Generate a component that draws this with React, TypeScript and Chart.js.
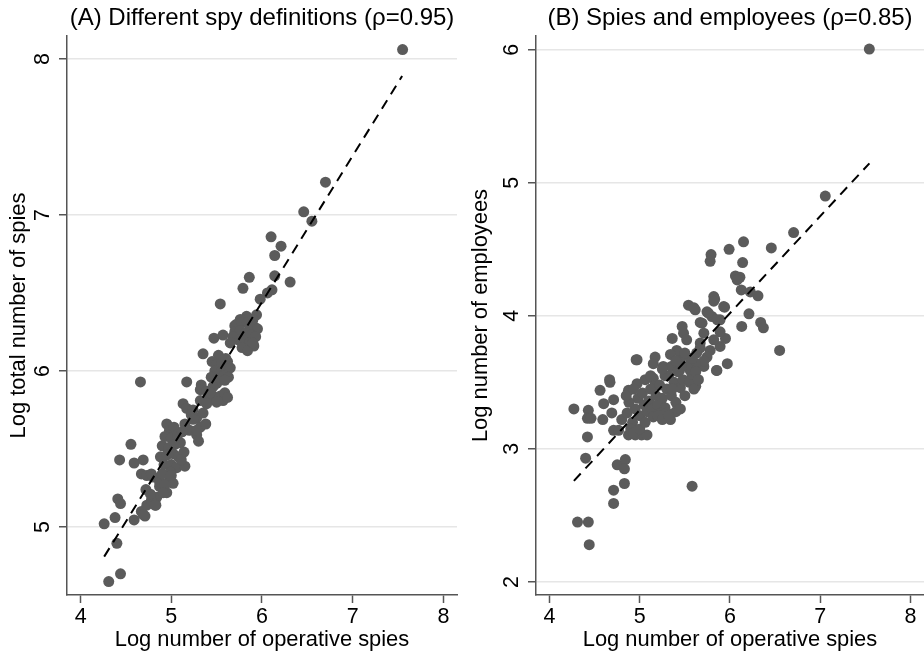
import React, { useEffect, useRef } from "react";
import { Chart, registerables } from "chart.js";

Chart.register(...registerables);

const FONT = "'Liberation Sans', Arial, Helvetica, sans-serif";

// ---- Panel A: Different spy definitions ----
const titleA = "(A) Different spy definitions (\u03c1=0.95)";
const xTitle = "Log number of operative spies";
const yTitleA = "Log total number of spies";
const xTicks = [4, 5, 6, 7, 8];
const yTicksA = [5, 6, 7, 8];

const opsA = [
  7.55, 6.70, 6.46, 6.55, 6.10, 6.21, 6.14, 5.86, 6.14, 5.79, 6.31, 6.11, 6.06, 5.98, 5.54, 5.94,
  5.90, 5.83, 5.76, 5.70, 5.87, 5.92, 5.72, 5.78, 5.84, 5.89, 5.95, 5.70, 5.76, 5.82, 5.88, 5.93,
  5.74, 5.80, 5.86, 5.91, 5.78, 5.84, 5.68, 5.65, 5.47, 5.57, 5.90, 5.35, 5.52, 5.45, 5.50, 5.56,
  5.62, 5.48, 5.54, 5.60, 5.65, 5.44, 5.52, 5.58, 5.63, 5.60, 5.17, 5.33, 5.50, 5.59, 5.32, 5.39,
  5.46, 5.46, 5.54, 5.57, 5.59, 5.62, 5.40, 5.50, 4.66, 5.13, 5.17, 5.24, 5.32, 5.22, 5.28, 5.35,
  5.15, 5.24, 5.32, 5.28, 5.38, 5.20, 5.30, 4.95, 4.98, 5.03, 4.93, 5.00, 5.07, 5.12, 4.90, 4.97,
  5.04, 5.10, 4.88, 4.95, 5.02, 5.08, 5.14, 4.92, 5.00, 5.06, 5.15, 5.11, 4.99, 4.84, 4.95, 4.87,
  4.80, 4.87, 4.98, 5.02, 4.90, 4.93, 5.00, 4.555, 4.43, 4.59, 4.69, 4.67, 4.73, 4.41, 4.44, 4.72,
  4.26, 4.38, 4.59, 4.71, 4.67, 4.73, 4.83, 4.40, 4.44, 4.31, 4.78, 4.77, 4.82, 4.91, 5.28, 5.39,
  5.43, 4.78, 4.69,
];
const totalA = [
  8.06, 7.21, 7.02, 6.96, 6.86, 6.80, 6.74, 6.60, 6.61, 6.53, 6.57, 6.52, 6.50, 6.46, 6.43, 6.36,
  6.33, 6.35, 6.33, 6.29, 6.28, 6.28, 6.30, 6.31, 6.31, 6.30, 6.27, 6.25, 6.26, 6.24, 6.23, 6.22,
  6.20, 6.19, 6.18, 6.16, 6.15, 6.13, 6.22, 6.18, 6.21, 6.23, 6.18, 6.11, 6.10, 6.06, 6.04, 6.05,
  6.06, 6.00, 5.99, 6.00, 6.02, 5.96, 5.95, 5.97, 5.96, 6.08, 5.93, 5.91, 5.92, 5.94, 5.88, 5.87,
  5.90, 5.84, 5.84, 5.81, 5.86, 5.83, 5.82, 5.80, 5.93, 5.79, 5.76, 5.75, 5.81, 5.72, 5.70, 5.73,
  5.66, 5.69, 5.64, 5.59, 5.66, 5.62, 5.55, 5.66, 5.62, 5.64, 5.58, 5.57, 5.59, 5.61, 5.52, 5.51,
  5.53, 5.54, 5.45, 5.46, 5.47, 5.45, 5.48, 5.40, 5.40, 5.38, 5.39, 5.43, 5.35, 5.19, 5.22, 5.26,
  5.32, 5.29, 5.30, 5.28, 5.34, 5.27, 5.33, 5.53, 5.43, 5.41, 5.43, 5.34, 5.33, 5.18, 5.15, 5.24,
  5.02, 5.06, 5.045, 5.07, 5.10, 5.14, 5.14, 4.895, 4.70, 4.65, 5.17, 5.21, 5.14, 5.22, 5.62, 5.79,
  5.86, 5.34, 5.08,
];
const fitXA = [4.26, 7.545];
const fitYA = [4.81, 7.89];

// ---- Panel B: Spies and employees ----
const titleB = "(B) Spies and employees (\u03c1=0.85)";
const yTitleB = "Log number of employees";
const yTicksB = [2, 3, 4, 5, 6];

const opsB = [
  7.544, 7.056, 6.705, 6.458, 6.15, 5.99, 5.79, 5.78, 6.14, 6.06, 6.11, 6.08, 6.125, 6.225, 6.31, 5.83,
  5.82, 5.94, 5.54, 5.615, 5.745, 5.80, 5.89, 6.21, 5.67, 5.47, 6.13, 6.34, 6.37, 6.55, 5.97, 5.85,
  5.78, 5.89, 5.95, 5.89, 5.69, 5.76, 5.86, 5.93, 5.82, 5.60, 5.71, 5.67, 5.82, 5.745, 5.63, 5.71,
  5.36, 5.485, 5.52, 5.62, 5.58, 4.97, 5.17, 5.15, 5.34, 4.27, 4.43, 4.42, 4.46, 4.56, 4.67, 4.60,
  4.71, 4.59, 4.69, 4.71, 4.42, 4.40, 4.75, 4.84, 4.83, 4.83, 4.71, 4.71, 4.31, 4.43, 4.44, 4.765,
  4.80, 4.86, 4.875, 4.95, 5.02, 5.08, 4.875, 4.97, 5.06, 5.15, 5.17, 5.67, 5.63, 5.71, 5.615, 5.56,
  5.45, 5.41, 5.34, 4.96, 5.26, 5.35, 5.44, 5.56, 5.855, 4.665, 4.92, 4.95, 4.98, 5.00, 5.03, 5.05,
  5.08, 5.10, 5.12, 5.14, 5.18, 5.20, 5.22, 5.25, 5.28, 5.30, 5.32, 5.35, 5.38, 5.40, 5.42, 5.45,
  5.48, 5.50, 5.52, 5.55, 5.58, 5.60, 5.62, 5.65, 4.90, 4.93, 5.00, 5.06, 5.15, 5.24, 5.30, 5.40,
  5.45, 5.36, 5.28, 5.46, 5.58, 5.50, 5.40, 4.88, 4.85, 4.93, 5.12, 5.25, 5.20, 5.25, 5.32,
];
const employeesB = [
  6.005, 4.90, 4.626, 4.51, 4.556, 4.50, 4.46, 4.41, 4.40, 4.30, 4.29, 4.27, 4.195, 4.18, 4.15, 4.125,
  4.145, 4.065, 4.08, 4.045, 4.03, 3.995, 3.97, 4.015, 3.95, 3.92, 3.92, 3.95, 3.91, 3.74, 3.64, 3.59,
  3.74, 3.77, 3.83, 3.88, 3.945, 4.02, 3.97, 4.07, 4.11, 4.06, 3.87, 3.795, 3.82, 3.69, 3.64, 3.62,
  3.83, 3.87, 3.82, 3.47, 2.72, 3.67, 3.69, 3.64, 3.22, 3.30, 3.29, 3.23, 3.23, 3.44, 3.50, 3.34,
  3.37, 3.22, 3.27, 3.14, 3.09, 2.93, 2.88, 2.92, 2.85, 2.74, 2.69, 2.59, 2.45, 2.45, 2.28, 3.14,
  3.22, 3.27, 3.105, 3.105, 3.105, 3.105, 3.44, 3.49, 3.52, 3.53, 3.48, 3.76, 3.72, 3.66, 3.64, 3.68,
  3.68, 3.74, 3.71, 3.67, 3.62, 3.62, 3.59, 3.59, 3.59, 3.52, 3.20, 3.30, 3.38, 3.25, 3.42, 3.33,
  3.28, 3.36, 3.45, 3.30, 3.40, 3.33, 3.48, 3.38, 3.31, 3.45, 3.55, 3.40, 3.50, 3.35, 3.58, 3.46,
  3.52, 3.40, 3.62, 3.50, 3.56, 3.45, 3.58, 3.52, 3.15, 3.12, 3.15, 3.20, 3.24, 3.27, 3.27, 3.28,
  3.30, 3.45, 3.55, 3.62, 3.68, 3.72, 3.66, 3.35, 3.40, 3.45, 3.55, 3.60, 3.25, 3.22, 3.25,
];
const fitXB = [4.27, 7.545];
const fitYB = [2.76, 5.146];

const DOT = "#5b5b5b";
const AXIS = "#555555";
const GRID = "#e6e6e6";

type PanelSpec = {
  title: string;
  yTitle: string;
  xs: number[];
  ys: number[];
  fitX: number[];
  fitY: number[];
  yTicks: number[];
  xMin: number;
  xMax: number;
  yMin: number;
  yMax: number;
  yAxisWidth: number;
  yTickPad: number;
};

const panelA: PanelSpec = {
  title: titleA,
  yTitle: yTitleA,
  xs: opsA,
  ys: totalA,
  fitX: fitXA,
  fitY: fitYA,
  yTicks: yTicksA,
  xMin: 3.85,
  xMax: 8.15,
  yMin: 4.564,
  yMax: 8.147,
  yAxisWidth: 67,
  yTickPad: 10,
};

const panelB: PanelSpec = {
  title: titleB,
  yTitle: yTitleB,
  xs: opsB,
  ys: employeesB,
  fitX: fitXB,
  fitY: fitYB,
  yTicks: yTicksB,
  xMin: 3.85,
  xMax: 8.15,
  yMin: 1.902,
  yMax: 6.103,
  yAxisWidth: 74,
  yTickPad: 10,
};

function Panel({ spec, left, rightPad }: { spec: PanelSpec; left: number; rightPad: number }) {
  const ref = useRef<HTMLCanvasElement | null>(null);
  useEffect(() => {
    if (!ref.current) return;
    const points = spec.xs.map((x, i) => ({ x, y: spec.ys[i] }));
    const fit = spec.fitX.map((x, i) => ({ x, y: spec.fitY[i] }));
    const chart = new Chart(ref.current, {
      type: "scatter",
      data: {
        datasets: [
          {
            type: "line",
            data: fit,
            showLine: true,
            borderColor: "#000000",
            borderWidth: 2,
            borderDash: [10, 7],
            pointRadius: 0,
            fill: false,
            order: 0,
          } as any,
          {
            data: points,
            backgroundColor: DOT,
            borderColor: DOT,
            borderWidth: 0,
            pointRadius: 5.5,
            pointHoverRadius: 5.5,
            order: 1,
          },
        ],
      },
      options: {
        animation: false,
        responsive: false,
        events: [],
        layout: { autoPadding: false, padding: { left: 0, right: rightPad, top: 0, bottom: 0 } },
        plugins: {
          legend: { display: false },
          tooltip: { enabled: false },
          title: {
            display: true,
            text: spec.title,
            fullSize: false,
            color: "#000000",
            font: { family: FONT, size: 24, weight: "normal", lineHeight: 1.2 },
            padding: { top: 3.8, bottom: 3.4 },
          },
        },
        scales: {
          x: {
            type: "linear",
            min: spec.xMin,
            max: spec.xMax,
            afterBuildTicks: (s: any) => {
              s.ticks = xTicks.map((v) => ({ value: v }));
            },
            afterFit: (s: any) => {
              s.height = 62;
            },
            grid: {
              drawOnChartArea: false,
              drawTicks: true,
              tickLength: 8,
              tickColor: AXIS,
              tickWidth: 1.5,
            },
            border: { display: true, color: AXIS, width: 1.5 },
            ticks: {
              color: "#000000",
              font: { family: FONT, size: 21.5 },
              padding: 1,
              maxRotation: 0,
              minRotation: 0,
            },
            title: {
              display: true,
              text: xTitle,
              color: "#000000",
              font: { family: FONT, size: 21.9, lineHeight: 1.2 },
              padding: { top: 0, bottom: 4 },
            },
          },
          y: {
            type: "linear",
            min: spec.yMin,
            max: spec.yMax,
            afterBuildTicks: (s: any) => {
              s.ticks = spec.yTicks.map((v) => ({ value: v }));
            },
            afterFit: (s: any) => {
              s.width = spec.yAxisWidth;
            },
            grid: {
              drawOnChartArea: true,
              color: GRID,
              lineWidth: 1.5,
              drawTicks: true,
              tickLength: 8,
              tickColor: AXIS,
              tickWidth: 1.5,
            },
            border: { display: true, color: AXIS, width: 1.5 },
            ticks: {
              color: "#000000",
              font: { family: FONT, size: 21.5 },
              padding: spec.yTickPad,
              minRotation: 90,
              maxRotation: 90,
              crossAlign: "center",
            },
            title: {
              display: true,
              text: spec.yTitle,
              color: "#000000",
              font: { family: FONT, size: 21.9, lineHeight: 1.2 },
              padding: { top: 5.5, bottom: 0 },
            },
          },
        },
      },
    });
    return () => chart.destroy();
  }, [spec, rightPad]);
  return (
    <canvas
      ref={ref}
      width={462}
      height={657}
      style={{ position: "absolute", left, top: 0, width: 462, height: 657, display: "block" }}
    />
  );
}

export default function App() {
  useEffect(() => {
    document.body.style.margin = "0";
  }, []);
  return (
    <div style={{ position: "absolute", left: 0, top: 0, width: 924, height: 657, background: "#ffffff", overflow: "hidden" }}>
      <Panel spec={panelA} left={0} rightPad={5} />
      <Panel spec={panelB} left={462} rightPad={0} />
    </div>
  );
}
